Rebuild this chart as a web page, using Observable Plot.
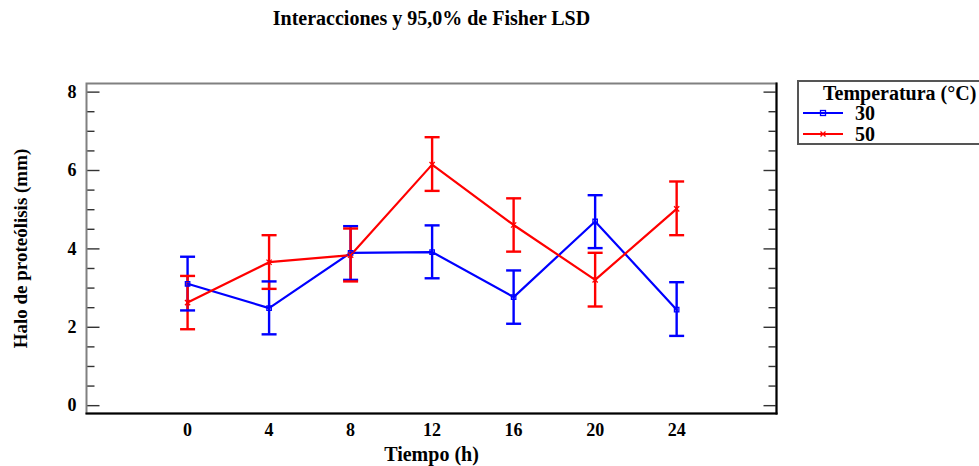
<!DOCTYPE html>
<html>
<head>
<meta charset="utf-8">
<script src="https://cdn.jsdelivr.net/npm/d3@7"></script>
<script src="https://cdn.jsdelivr.net/npm/@observablehq/plot@0.6"></script>
<style>
  html, body { margin: 0; padding: 0; background: #fff; overflow: hidden; }
  #wrap { position: relative; width: 979px; height: 466px; }
  #legend { position: absolute; left: 797px; top: 80px; width: 190px; height: 65px;
    border: 2px solid #555; box-sizing: border-box; font-family: "Liberation Serif", serif; font-weight: bold; }
</style>
</head>
<body>
<div id="wrap"></div>
<script>
// ---- data ----
const times = [0, 4, 8, 12, 16, 20, 24];
const temps = ["30", "50"];
const colors = ["#0000ff", "#ff0000"];
const mean30 = [3.11, 2.49, 3.90, 3.92, 2.77, 4.70, 2.45];
const low30  = [2.43, 1.82, 3.21, 3.25, 2.09, 4.02, 1.78];
const high30 = [3.80, 3.17, 4.58, 4.60, 3.45, 5.37, 3.15];
const mean50 = [2.63, 3.66, 3.84, 6.15, 4.61, 3.21, 5.02];
const low50  = [1.95, 2.98, 3.17, 5.48, 3.93, 2.53, 4.35];
const high50 = [3.31, 4.35, 4.52, 6.85, 5.29, 3.90, 5.72];
const yMajor = [0, 2, 4, 6, 8];
const yMinor = [0.5, 1, 1.5, 2.5, 3, 3.5, 4.5, 5, 5.5, 6.5, 7, 7.5];
const title = "Interacciones y 95,0% de Fisher LSD";
const xLabel = "Tiempo (h)";
const yLabel = "Halo de proteólisis (mm)";
const legendTitle = "Temperatura (°C)";

const rows = [];
times.forEach((t, i) => {
  rows.push({t, temp: temps[0], mean: mean30[i], lo: low30[i], hi: high30[i]});
  rows.push({t, temp: temps[1], mean: mean50[i], lo: low50[i], hi: high50[i]});
});

// custom symbols
const capSym = {draw(ctx) { ctx.moveTo(-7.5, 0); ctx.lineTo(7.5, 0); }};
const tick = (a, b) => ({draw(ctx) { ctx.moveTo(a, 0); ctx.lineTo(b, 0); }});

const font = "Liberation Serif, Times New Roman, serif";
const colorScale = {domain: temps, range: colors};

const chart = Plot.plot({
  width: 979, height: 466,
  marginLeft: 86, marginRight: 203, marginTop: 83, marginBottom: 53,
  style: {fontFamily: font, fontWeight: "bold", fontSize: "18px", color: "#000", background: "#fff"},
  x: {domain: [-4.96, 28.9], axis: null},
  y: {domain: [-0.2, 8.22], axis: null},
  color: colorScale,
  marks: [
    // y tick labels and x tick labels
    Plot.axisY({ticks: yMajor, tickSize: 0, tickPadding: 10, fontWeight: "bold", fontSize: 18, label: null}),
    Plot.axisX({ticks: times, tickSize: 0, tickPadding: 10, fontWeight: "bold", fontSize: 18, label: null}),
    // inward ticks, left and right
    Plot.dot(yMajor, {y: d => d, frameAnchor: "left", symbol: tick(0, 13), stroke: "#333", strokeWidth: 1.4}),
    Plot.dot(yMinor, {y: d => d, frameAnchor: "left", symbol: tick(0, 8), stroke: "#333", strokeWidth: 1.4}),
    Plot.dot(yMajor, {y: d => d, frameAnchor: "right", symbol: tick(-13, 0), stroke: "#333", strokeWidth: 1.4}),
    Plot.dot(yMinor, {y: d => d, frameAnchor: "right", symbol: tick(-8, 0), stroke: "#333", strokeWidth: 1.4}),
    // frame
    Plot.frame({stroke: "#808080", strokeWidth: 2}),
    Plot.frame({anchor: "bottom", stroke: "#000", strokeWidth: 2}),
    Plot.frame({anchor: "right", stroke: "#000", strokeWidth: 2}),
    // error bars
    Plot.ruleX(rows, {x: "t", y1: "lo", y2: "hi", stroke: "temp", strokeWidth: 2.4}),
    Plot.dot(rows, {x: "t", y: "lo", stroke: "temp", symbol: capSym, strokeWidth: 2.4}),
    Plot.dot(rows, {x: "t", y: "hi", stroke: "temp", symbol: capSym, strokeWidth: 2.4}),
    // lines
    Plot.line(rows, {x: "t", y: "mean", z: "temp", stroke: "temp", strokeWidth: 2.2}),
    Plot.dot(rows.filter(d => d.temp === temps[0]), {x: "t", y: "mean", stroke: "temp", symbol: "square", r: 2.5, strokeWidth: 1.3}),
    Plot.dot(rows.filter(d => d.temp === temps[1]), {x: "t", y: "mean", stroke: "temp", symbol: "times", r: 2.5, strokeWidth: 1.3}),
    // axis labels and title
    Plot.text([xLabel], {frameAnchor: "bottom", dy: 41, lineAnchor: "middle", fontSize: 20, fontWeight: "bold", fill: "#000"}),
    Plot.text([yLabel], {frameAnchor: "left", dx: -66, rotate: -90, textAnchor: "middle", lineAnchor: "middle", fontSize: 19, fontWeight: "bold", fill: "#000"}),
    Plot.text([title], {frameAnchor: "top", dy: -65, lineAnchor: "middle", fontSize: 20, fontWeight: "bold", fill: "#000"})
  ]
});
document.getElementById("wrap").appendChild(chart);

// legend
const lg = document.createElement("div");
lg.id = "legend";
const ns = "http://www.w3.org/2000/svg";
const svg = document.createElementNS(ns, "svg");
svg.setAttribute("width", 186); svg.setAttribute("height", 64);
svg.style.position = "absolute"; svg.style.left = "0"; svg.style.top = "0"; svg.style.overflow = "visible";
const t0 = document.createElementNS(ns, "text");
t0.setAttribute("x", 24); t0.setAttribute("y", 18);
t0.setAttribute("font-size", 20); t0.setAttribute("font-weight", "bold");
t0.setAttribute("font-family", font);
t0.textContent = legendTitle;
svg.appendChild(t0);
temps.forEach((tp, i) => {
  const y = 31 + i * 21;
  const ln = document.createElementNS(ns, "line");
  ln.setAttribute("x1", 4); ln.setAttribute("x2", 44); ln.setAttribute("y1", y); ln.setAttribute("y2", y);
  ln.setAttribute("stroke", colors[i]); ln.setAttribute("stroke-width", 2);
  svg.appendChild(ln);
  if (i === 0) {
    const r = document.createElementNS(ns, "rect");
    r.setAttribute("x", 21.5); r.setAttribute("y", y - 2.5); r.setAttribute("width", 5); r.setAttribute("height", 5);
    r.setAttribute("fill", "none"); r.setAttribute("stroke", colors[i]); r.setAttribute("stroke-width", 1.3);
    svg.appendChild(r);
  } else {
    const p = document.createElementNS(ns, "path");
    p.setAttribute("d", `M21.5,${y-2.5}L26.5,${y+2.5}M21.5,${y+2.5}L26.5,${y-2.5}`);
    p.setAttribute("stroke", colors[i]); p.setAttribute("stroke-width", 1.3);
    svg.appendChild(p);
  }
  const tx = document.createElementNS(ns, "text");
  tx.setAttribute("x", 56); tx.setAttribute("y", y + 7);
  tx.setAttribute("font-size", 20); tx.setAttribute("font-weight", "bold"); tx.setAttribute("font-family", font);
  tx.textContent = tp;
  svg.appendChild(tx);
});
lg.appendChild(svg);
document.getElementById("wrap").appendChild(lg);
</script>
</body>
</html>
